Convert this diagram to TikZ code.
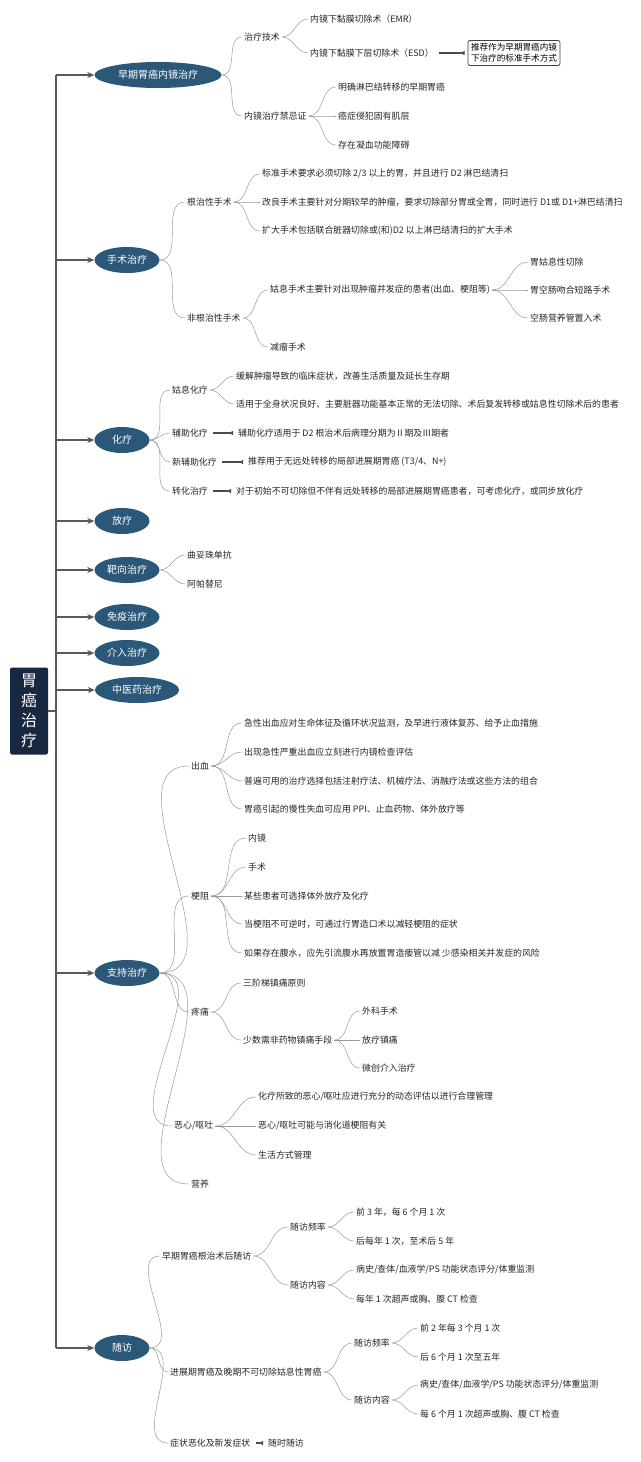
\documentclass[tikz,border=0pt]{standalone}
\usepackage{fontspec}
\setmainfont{Noto Sans CJK SC}
\usetikzlibrary{arrows.meta,shapes}
\definecolor{mapblue}{HTML}{2B5878}
\definecolor{rootblue}{HTML}{172840}
\tikzset{
        % Main topic ellipses
        node_main/.style={ellipse, fill=mapblue, text=white, inner sep=1pt, minimum height=26pt, font=\fontsize{10}{12}\selectfont},
        % Plain text leaves
        node_leaf/.style={anchor=west, inner sep=2pt, font=\fontsize{8.9}{10}\selectfont, text=black!85},
        % Boxed note
        node_note/.style={draw=black!75, rounded corners=2pt, thick, align=center, inner sep=3pt, font=\fontsize{8.6}{11}\selectfont},
        % Connectors
        link/.style={draw=black!40, line width=0.5pt},
        link_thick/.style={draw=black!70, line width=1.6pt, -{Triangle[reversed,length=4pt,width=4pt]}},
        trunk/.style={draw=black!65, line width=1.8pt}
}
\begin{document}
\begin{tikzpicture}[x=1pt, y=-1pt]
    \useasboundingbox (0,0) rectangle (640,1462);
    \node[fill=rootblue, rounded corners=2pt, text=white, minimum width=38pt, minimum height=87pt, align=center, font=\fontsize{16}{20}\selectfont] (root) at (29,711) {胃\\癌\\治\\疗};
    \coordinate (tx) at (56,0);
    \draw[trunk] (root.east) -- (tx |- root.east);
    \draw[trunk] (56,75) -- (56,1348);
    % main topics
    \node[node_main, minimum width=127pt] (m1) at (158,75) {早期胃癌内镜治疗};
    \node[node_main, minimum width=65pt] (m2) at (127,260) {手术治疗};
    \node[node_main, minimum width=55pt] (m3) at (122,440) {化疗};
    \node[node_main, minimum width=55pt] (m4) at (122,521) {放疗};
    \node[node_main, minimum width=65pt] (m5) at (127,570) {靶向治疗};
    \node[node_main, minimum width=65pt] (m6) at (127,617) {免疫治疗};
    \node[node_main, minimum width=65pt] (m7) at (127,653) {介入治疗};
    \node[node_main, minimum width=84pt] (m8) at (137,690) {中医药治疗};
    \node[node_main, minimum width=65pt] (m9) at (127,973) {支持治疗};
    \node[node_main, minimum width=55pt] (m10) at (122,1348) {随访};
    \foreach \m in {m1,m2,m3,m4,m5,m6,m7,m8,m9,m10}
        \draw[trunk, -{Stealth[length=7pt,width=6pt]}] (tx |- \m) -- (\m.west);

    % 早期胃癌内镜治疗
    \node[node_leaf] (a1) at (242,37) {治疗技术};
    \node[node_leaf] (a11) at (308,19) {内镜下黏膜切除术（EMR）};
    \node[node_leaf] (a12) at (308,53) {内镜下黏膜下层切除术（ESD）};
    \node[node_note] (a12n) at (514,53) {推荐作为早期胃癌内镜\\下治疗的标准手术方式};
    \node[node_leaf] (a2) at (242,116) {内镜治疗禁忌证};
    \node[node_leaf] (a21) at (336,87) {明确淋巴结转移的早期胃癌};
    \node[node_leaf] (a22) at (336,116) {癌症侵犯固有肌层};
    \node[node_leaf] (a23) at (336,145) {存在凝血功能障碍};
    % 手术治疗
    \node[node_leaf] (b1) at (185,202) {根治性手术};
    \node[node_leaf] (b11) at (260,174) {标准手术要求必须切除 2/3 以上的胃，并且进行 D2 淋巴结清扫};
    \node[node_leaf] (b12) at (260,202) {改良手术主要针对分期较早的肿瘤，要求切除部分胃或全胃，同时进行 D1或 D1+淋巴结清扫};
    \node[node_leaf] (b13) at (260,231) {扩大手术包括联合脏器切除或(和)D2 以上淋巴结清扫的扩大手术};
    \node[node_leaf] (b2) at (185,318) {非根治性手术};
    \node[node_leaf] (b21) at (268,290) {姑息手术主要针对出现肿瘤并发症的患者(出血、梗阻等)};
    \node[node_leaf] (b211) at (528,262) {胃姑息性切除};
    \node[node_leaf] (b212) at (528,290) {胃空肠吻合短路手术};
    \node[node_leaf] (b213) at (528,318) {空肠营养管置入术};
    \node[node_leaf] (b22) at (268,347) {减瘤手术};
    % 化疗
    \node[node_leaf] (c1) at (170,390) {姑息化疗};
    \node[node_leaf] (c11) at (234,376) {缓解肿瘤导致的临床症状，改善生活质量及延长生存期};
    \node[node_leaf] (c12) at (234,404) {适用于全身状况良好、主要脏器功能基本正常的无法切除、术后复发转移或姑息性切除术后的患者};
    \node[node_leaf] (c2) at (170,433) {辅助化疗};
    \node[node_leaf] (c21) at (236,433) {辅助化疗适用于 D2 根治术后病理分期为Ⅱ期及Ⅲ期者};
    \node[node_leaf] (c3) at (170,462) {新辅助化疗};
    \node[node_leaf] (c31) at (246,462) {推荐用于无远处转移的局部进展期胃癌 (T3/4、N+)};
    \node[node_leaf] (c4) at (170,491) {转化治疗};
    \node[node_leaf] (c41) at (234,491) {对于初始不可切除但不伴有远处转移的局部进展期胃癌患者，可考虑化疗，或同步放化疗};
    % 靶向治疗
    \node[node_leaf] (d1) at (185,555) {曲妥珠单抗};
    \node[node_leaf] (d2) at (185,584) {阿帕替尼};
    % 支持治疗
    \node[node_leaf] (e1) at (189,766) {出血};
    \node[node_leaf] (e11) at (242,723) {急性出血应对生命体征及循环状况监测，及早进行液体复苏、给予止血措施};
    \node[node_leaf] (e12) at (242,752) {出现急性严重出血应立刻进行内镜检查评估};
    \node[node_leaf] (e13) at (242,781) {普遍可用的治疗选择包括注射疗法、机械疗法、消融疗法或这些方法的组合};
    \node[node_leaf] (e14) at (242,809) {胃癌引起的慢性失血可应用 PPI、止血药物、体外放疗等};
    \node[node_leaf] (e2) at (189,896) {梗阻};
    \node[node_leaf] (e21) at (246,838) {内镜};
    \node[node_leaf] (e22) at (246,867) {手术};
    \node[node_leaf] (e23) at (242,896) {某些患者可选择体外放疗及化疗};
    \node[node_leaf] (e24) at (242,924) {当梗阻不可逆时，可通过行胃造口术以减轻梗阻的症状};
    \node[node_leaf] (e25) at (242,953) {如果存在腹水，应先引流腹水再放置胃造瘘管以减 少感染相关并发症的风险};
    \node[node_leaf] (e3) at (189,1012) {疼痛};
    \node[node_leaf] (e31) at (241,983) {三阶梯镇痛原则};
    \node[node_leaf] (e32) at (241,1040) {少数需非药物镇痛手段};
    \node[node_leaf] (e321) at (360,1011) {外科手术};
    \node[node_leaf] (e322) at (360,1040) {放疗镇痛};
    \node[node_leaf] (e323) at (360,1068) {微创介入治疗};
    \node[node_leaf] (e4) at (172,1126) {恶心/呕吐};
    \node[node_leaf] (e41) at (256,1097) {化疗所致的恶心/呕吐应进行充分的动态评估以进行合理管理};
    \node[node_leaf] (e42) at (256,1126) {恶心/呕吐可能与消化道梗阻有关};
    \node[node_leaf] (e43) at (256,1155) {生活方式管理};
    \node[node_leaf] (e5) at (189,1184) {营养};
    % 随访
    \node[node_leaf] (f1) at (160,1256) {早期胃癌根治术后随访};
    \node[node_leaf] (f11) at (288,1227) {随访频率};
    \node[node_leaf] (f111) at (354,1212) {前 3 年，每 6 个月 1 次};
    \node[node_leaf] (f112) at (354,1241) {后每年 1 次，至术后 5 年};
    \node[node_leaf] (f12) at (288,1285) {随访内容};
    \node[node_leaf] (f121) at (354,1270) {病史/查体/血液学/PS 功能状态评分/体重监测};
    \node[node_leaf] (f122) at (354,1299) {每年 1 次超声或胸、腹 CT 检查};
    \node[node_leaf] (f2) at (168,1372) {进展期胃癌及晚期不可切除姑息性胃癌};
    \node[node_leaf] (f21) at (352,1343) {随访频率};
    \node[node_leaf] (f211) at (418,1328) {前 2 年每 3 个月 1 次};
    \node[node_leaf] (f212) at (418,1357) {后 6 个月 1 次至五年};
    \node[node_leaf] (f22) at (352,1400) {随访内容};
    \node[node_leaf] (f221) at (418,1385) {病史/查体/血液学/PS 功能状态评分/体重监测};
    \node[node_leaf] (f222) at (418,1414) {每 6 个月 1 次超声或胸、腹 CT 检查};
    \node[node_leaf] (f3) at (168,1443) {症状恶化及新发症状};
    \node[node_leaf] (f31) at (266,1443) {随时随访};

    % curved branches
    \foreach \p/\c in {m1/a1, m1/a2, a1/a11, a1/a12, a2/a21, a2/a22, a2/a23,
                       m2/b1, m2/b2, b1/b11, b1/b12, b1/b13, b2/b21, b2/b22, b21/b211, b21/b212, b21/b213,
                       m3/c1, m3/c2, m3/c3, m3/c4, c1/c11, c1/c12,
                       m5/d1, m5/d2,
                       m9/e1, m9/e2, m9/e3, m9/e4, m9/e5,
                       e1/e11, e1/e12, e1/e13, e1/e14,
                       e2/e21, e2/e22, e2/e23, e2/e24, e2/e25,
                       e3/e31, e3/e32, e32/e321, e32/e322, e32/e323,
                       e4/e41, e4/e42, e4/e43,
                       m10/f1, m10/f2, m10/f3, f1/f11, f1/f12, f11/f111, f11/f112, f12/f121, f12/f122,
                       f2/f21, f2/f22, f21/f211, f21/f212, f22/f221, f22/f222}
        \draw[link] (\p.east) to[out=0, in=180] (\c.west);
    % single-child links
    \foreach \p/\c in {a12/a12n, c2/c21, c3/c31, c4/c41, f3/f31}
        \draw[link_thick] ([xshift=3pt]\p.east) -- ([xshift=-3pt]\c.west);
\end{tikzpicture}
\end{document}
